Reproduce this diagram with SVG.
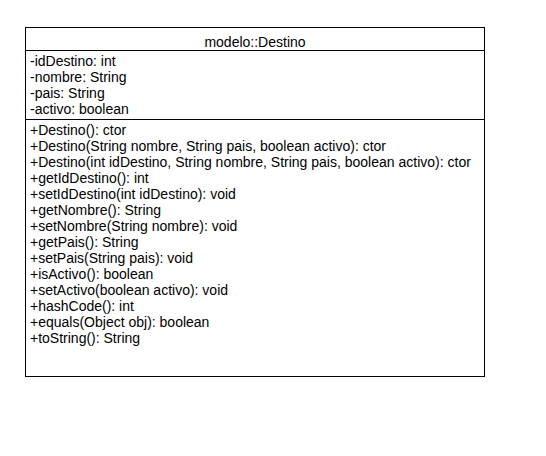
<svg xmlns="http://www.w3.org/2000/svg" width="546" height="456" viewBox="0 0 546 456">
<style>
text { font-family: "Liberation Sans", Arial, sans-serif; font-size: 14px; fill: #000; }
.box { fill: #fff; stroke: #000; stroke-width: 1; }
.sep { stroke: #000; stroke-width: 1; }
</style>
<rect width="546" height="456" fill="#fff"/>
<g id="node-Destino">
<rect class="box" x="25.5" y="27.5" width="459" height="349"/>
<line class="sep" x1="25.5" y1="50.5" x2="484.5" y2="50.5"/>
<line class="sep" x1="25.5" y1="119.5" x2="484.5" y2="119.5"/>
<text x="255" y="47" text-anchor="middle">modelo::Destino</text>
<text x="30" y="65.5">-idDestino: int</text>
<text x="30" y="81.5">-nombre: String</text>
<text x="30" y="97.5">-pais: String</text>
<text x="30" y="113.5">-activo: boolean</text>
<text x="30" y="134.5">+Destino(): ctor</text>
<text x="30" y="150.5">+Destino(String nombre, String pais, boolean activo): ctor</text>
<text x="30" y="166.5">+Destino(int idDestino, String nombre, String pais, boolean activo): ctor</text>
<text x="30" y="182.5">+getIdDestino(): int</text>
<text x="30" y="198.5">+setIdDestino(int idDestino): void</text>
<text x="30" y="214.5">+getNombre(): String</text>
<text x="30" y="230.5">+setNombre(String nombre): void</text>
<text x="30" y="246.5">+getPais(): String</text>
<text x="30" y="262.5">+setPais(String pais): void</text>
<text x="30" y="278.5">+isActivo(): boolean</text>
<text x="30" y="294.5">+setActivo(boolean activo): void</text>
<text x="30" y="310.5">+hashCode(): int</text>
<text x="30" y="326.5">+equals(Object obj): boolean</text>
<text x="30" y="342.5">+toString(): String</text>
</g>
<g id="connectors"></g>
</svg>
